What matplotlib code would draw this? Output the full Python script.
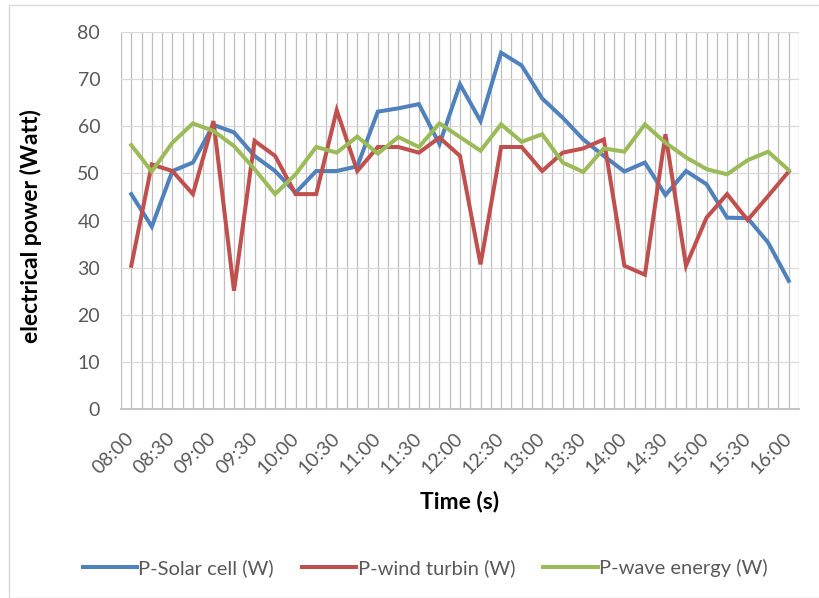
import matplotlib
matplotlib.use("Agg")
import matplotlib.pyplot as plt
from matplotlib.patches import Rectangle
import numpy as np

plt.rcParams['font.family'] = ['Lato', 'DejaVu Sans']

times = ["08:00", "08:15", "08:30", "08:45", "09:00", "09:15", "09:30", "09:45",
         "10:00", "10:15", "10:30", "10:45", "11:00", "11:15", "11:30", "11:45",
         "12:00", "12:15", "12:30", "12:45", "13:00", "13:15", "13:30", "13:45",
         "14:00", "14:15", "14:30", "14:45", "15:00", "15:15", "15:30", "15:45",
         "16:00"]

solar = [45.6, 38.7, 50.5, 52.3, 60.3, 58.7, 53.7, 50.5, 45.9, 50.5, 50.5,
         51.5, 63.1, 63.8, 64.7, 56.2, 68.9, 61.1, 75.6, 72.9, 65.9, 61.8,
         57.2, 53.7, 50.4, 52.3, 45.4, 50.5, 47.7, 40.6, 40.5, 35.3, 27.2]

wind = [30.4, 51.9, 50.5, 45.6, 61.1, 25.1, 56.9, 53.7, 45.6, 45.6, 63.4,
        50.5, 55.6, 55.6, 54.4, 57.6, 53.7, 30.7, 55.6, 55.6, 50.5, 54.4,
        55.3, 57.2, 30.4, 28.5, 58.3, 30.4, 40.6, 45.6, 40.1, 45.2, 50.4]

wave = [56.0, 50.4, 56.5, 60.6, 59.0, 55.8, 50.9, 45.6, 49.8, 55.6, 54.4,
        57.8, 54.2, 57.7, 55.6, 60.6, 57.7, 54.8, 60.4, 56.7, 58.3, 52.3,
        50.3, 55.3, 54.6, 60.4, 56.5, 53.4, 50.9, 49.8, 52.8, 54.6, 50.7]

series_names = ["P-Solar cell (W)", "P-wind turbin (W)", "P-wave energy (W)"]
colors = ["#4F81BD", "#C0504D", "#9BBB59"]

W, H = 819, 598
fig = plt.figure(figsize=(W / 100, H / 100), dpi=100)

# chart-area border (light gray)
fig.patches.append(Rectangle((9 / W, 0), 1.2, 1 - 5 / H, transform=fig.transFigure,
                             fill=False, edgecolor="#D9D9D9", linewidth=1.0))

ax = fig.add_axes([121 / W, 1 - 409 / H, (799 - 121) / W, (409 - 32) / H])

x = np.arange(len(times))
handles = []
for vals, name, c in zip([solar, wind, wave], series_names, colors):
    h, = ax.plot(x, vals, color=c, lw=2.9, solid_joinstyle="miter", label=name, zorder=3)
    handles.append(h)

ax.set_xlim(-0.5, len(times) - 0.5)
ax.set_ylim(0, 80)
ax.set_yticks(np.arange(0, 81, 10))

ax.set_xticks(x[::2])
ax.set_xticklabels(times[::2])
ax.grid(False)
# vertical gridlines at each category and between categories
for xv in np.arange(-0.5, len(times), 0.5):
    ax.axvline(xv, color="#BFBFBF", lw=0.9, zorder=1)
for yv in np.arange(10, 81, 10):
    ax.axhline(yv, color="#D9D9D9", lw=0.9, zorder=1)

for s in ["top", "right", "left"]:
    ax.spines[s].set_visible(False)
ax.spines["bottom"].set_color("#BFBFBF")
ax.spines["bottom"].set_linewidth(1.3)
ax.spines["bottom"].set_zorder(2)

ax.tick_params(axis="both", which="both", length=0)
ax.tick_params(axis="y", labelsize=14, labelcolor="#595959", pad=15)
ax.tick_params(axis="x", labelsize=14, labelcolor="#595959", pad=19)
for lbl in ax.get_xticklabels():
    lbl.set_rotation(45)
    lbl.set_ha("right")
    lbl.set_va("center")
    lbl.set_rotation_mode("anchor")

fig.text(31 / W, 1 - 226 / H, "electrical power (Watt)", rotation=90, fontsize=16.5,
         fontweight="bold", ha="center", va="center", color="black")
fig.text(460 / W, 1 - 502 / H, "Time (s)", fontsize=16.5, fontweight="bold",
         ha="center", va="center", color="black")

fig.legend(handles, series_names, loc="center", bbox_to_anchor=(425 / W, 1 - 568 / H),
           ncol=3, frameon=False, fontsize=14.5, handlelength=2.7, handletextpad=0.06,
           columnspacing=1.4, labelcolor="#595959")

fig.savefig("out.png", dpi=100)
